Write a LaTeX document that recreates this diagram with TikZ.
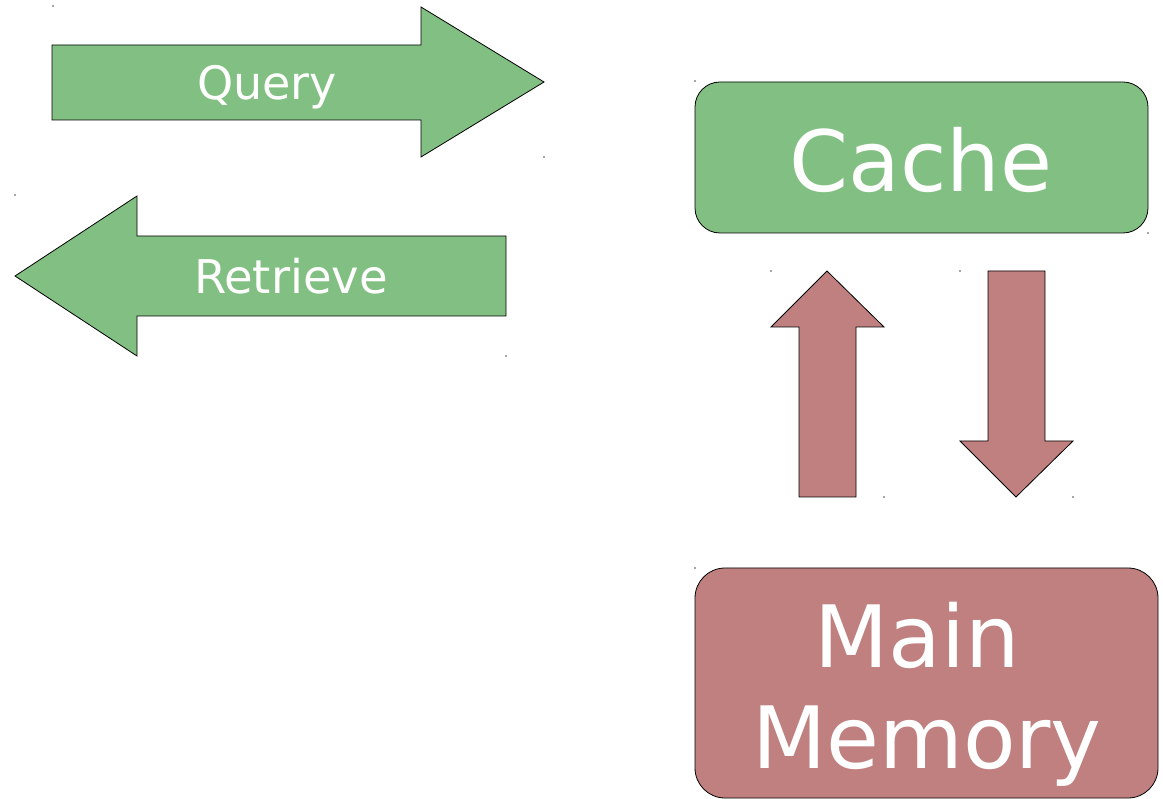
\documentclass[tikz,border=0pt]{standalone}
\usepackage{fontspec}
\setmainfont{DejaVu Sans}
\definecolor{boxgreen}{RGB}{130,191,130}
\definecolor{boxred}{RGB}{192,128,128}
\begin{document}
\begin{tikzpicture}[x=1pt,y=-1pt,
  shapeline/.style={draw=black,line width=0.8pt,line join=miter},
  greenfill/.style={shapeline,fill=boxgreen},
  redfill/.style={shapeline,fill=boxred},
  lbl/.style={text=white,inner sep=0pt,anchor=base},
  dotmark/.style={fill=gray!70,draw=none}]
\useasboundingbox (0,0) rectangle (1163,799);
% corner marks
\foreach \p in {(53,6),(544,157),(15,195),(506,356),(695,81),(1148,233),(771,271),(884,497),(960,271),(1073,497),(695,568)}
  \fill[dotmark] \p ++(-0.7,-0.7) rectangle ++(1.4,1.4);
% Query arrow
\draw[greenfill] (52,45) -- (421,45) -- (421,7) -- (544,82) -- (421,157) -- (421,120) -- (52,120) -- cycle;
\node[lbl,font=\fontsize{46}{54}\selectfont] (query) at (267,100) {Query};
% Retrieve arrow
\draw[greenfill] (506,236) -- (137,236) -- (137,196) -- (15,276) -- (137,356) -- (137,316) -- (506,316) -- cycle;
\node[lbl,font=\fontsize{46.5}{54}\selectfont] (retrieve) at (291,294) {Retrieve};
% Cache
\draw[greenfill,rounded corners=25pt] (695,82) rectangle (1148,233);
\node[lbl,font=\fontsize{84.5}{100}\selectfont] (cache) at (921,192) {Cache};
% Main Memory
\draw[redfill,rounded corners=30pt] (695,568) rectangle (1158,798);
\node[lbl,font=\fontsize{86}{100}\selectfont] (main) at (917,667) {Main};
\node[lbl,font=\fontsize{86}{100}\selectfont] (memory) at (927,768) {Memory};
% up arrow
\draw[redfill] (799,497) -- (799,327) -- (771,327) -- (827,271) -- (884,327) -- (856,327) -- (856,497) -- cycle;
% down arrow
\draw[redfill] (988,271) -- (988,441) -- (960,441) -- (1016,497) -- (1073,441) -- (1045,441) -- (1045,271) -- cycle;
\end{tikzpicture}
\end{document}
